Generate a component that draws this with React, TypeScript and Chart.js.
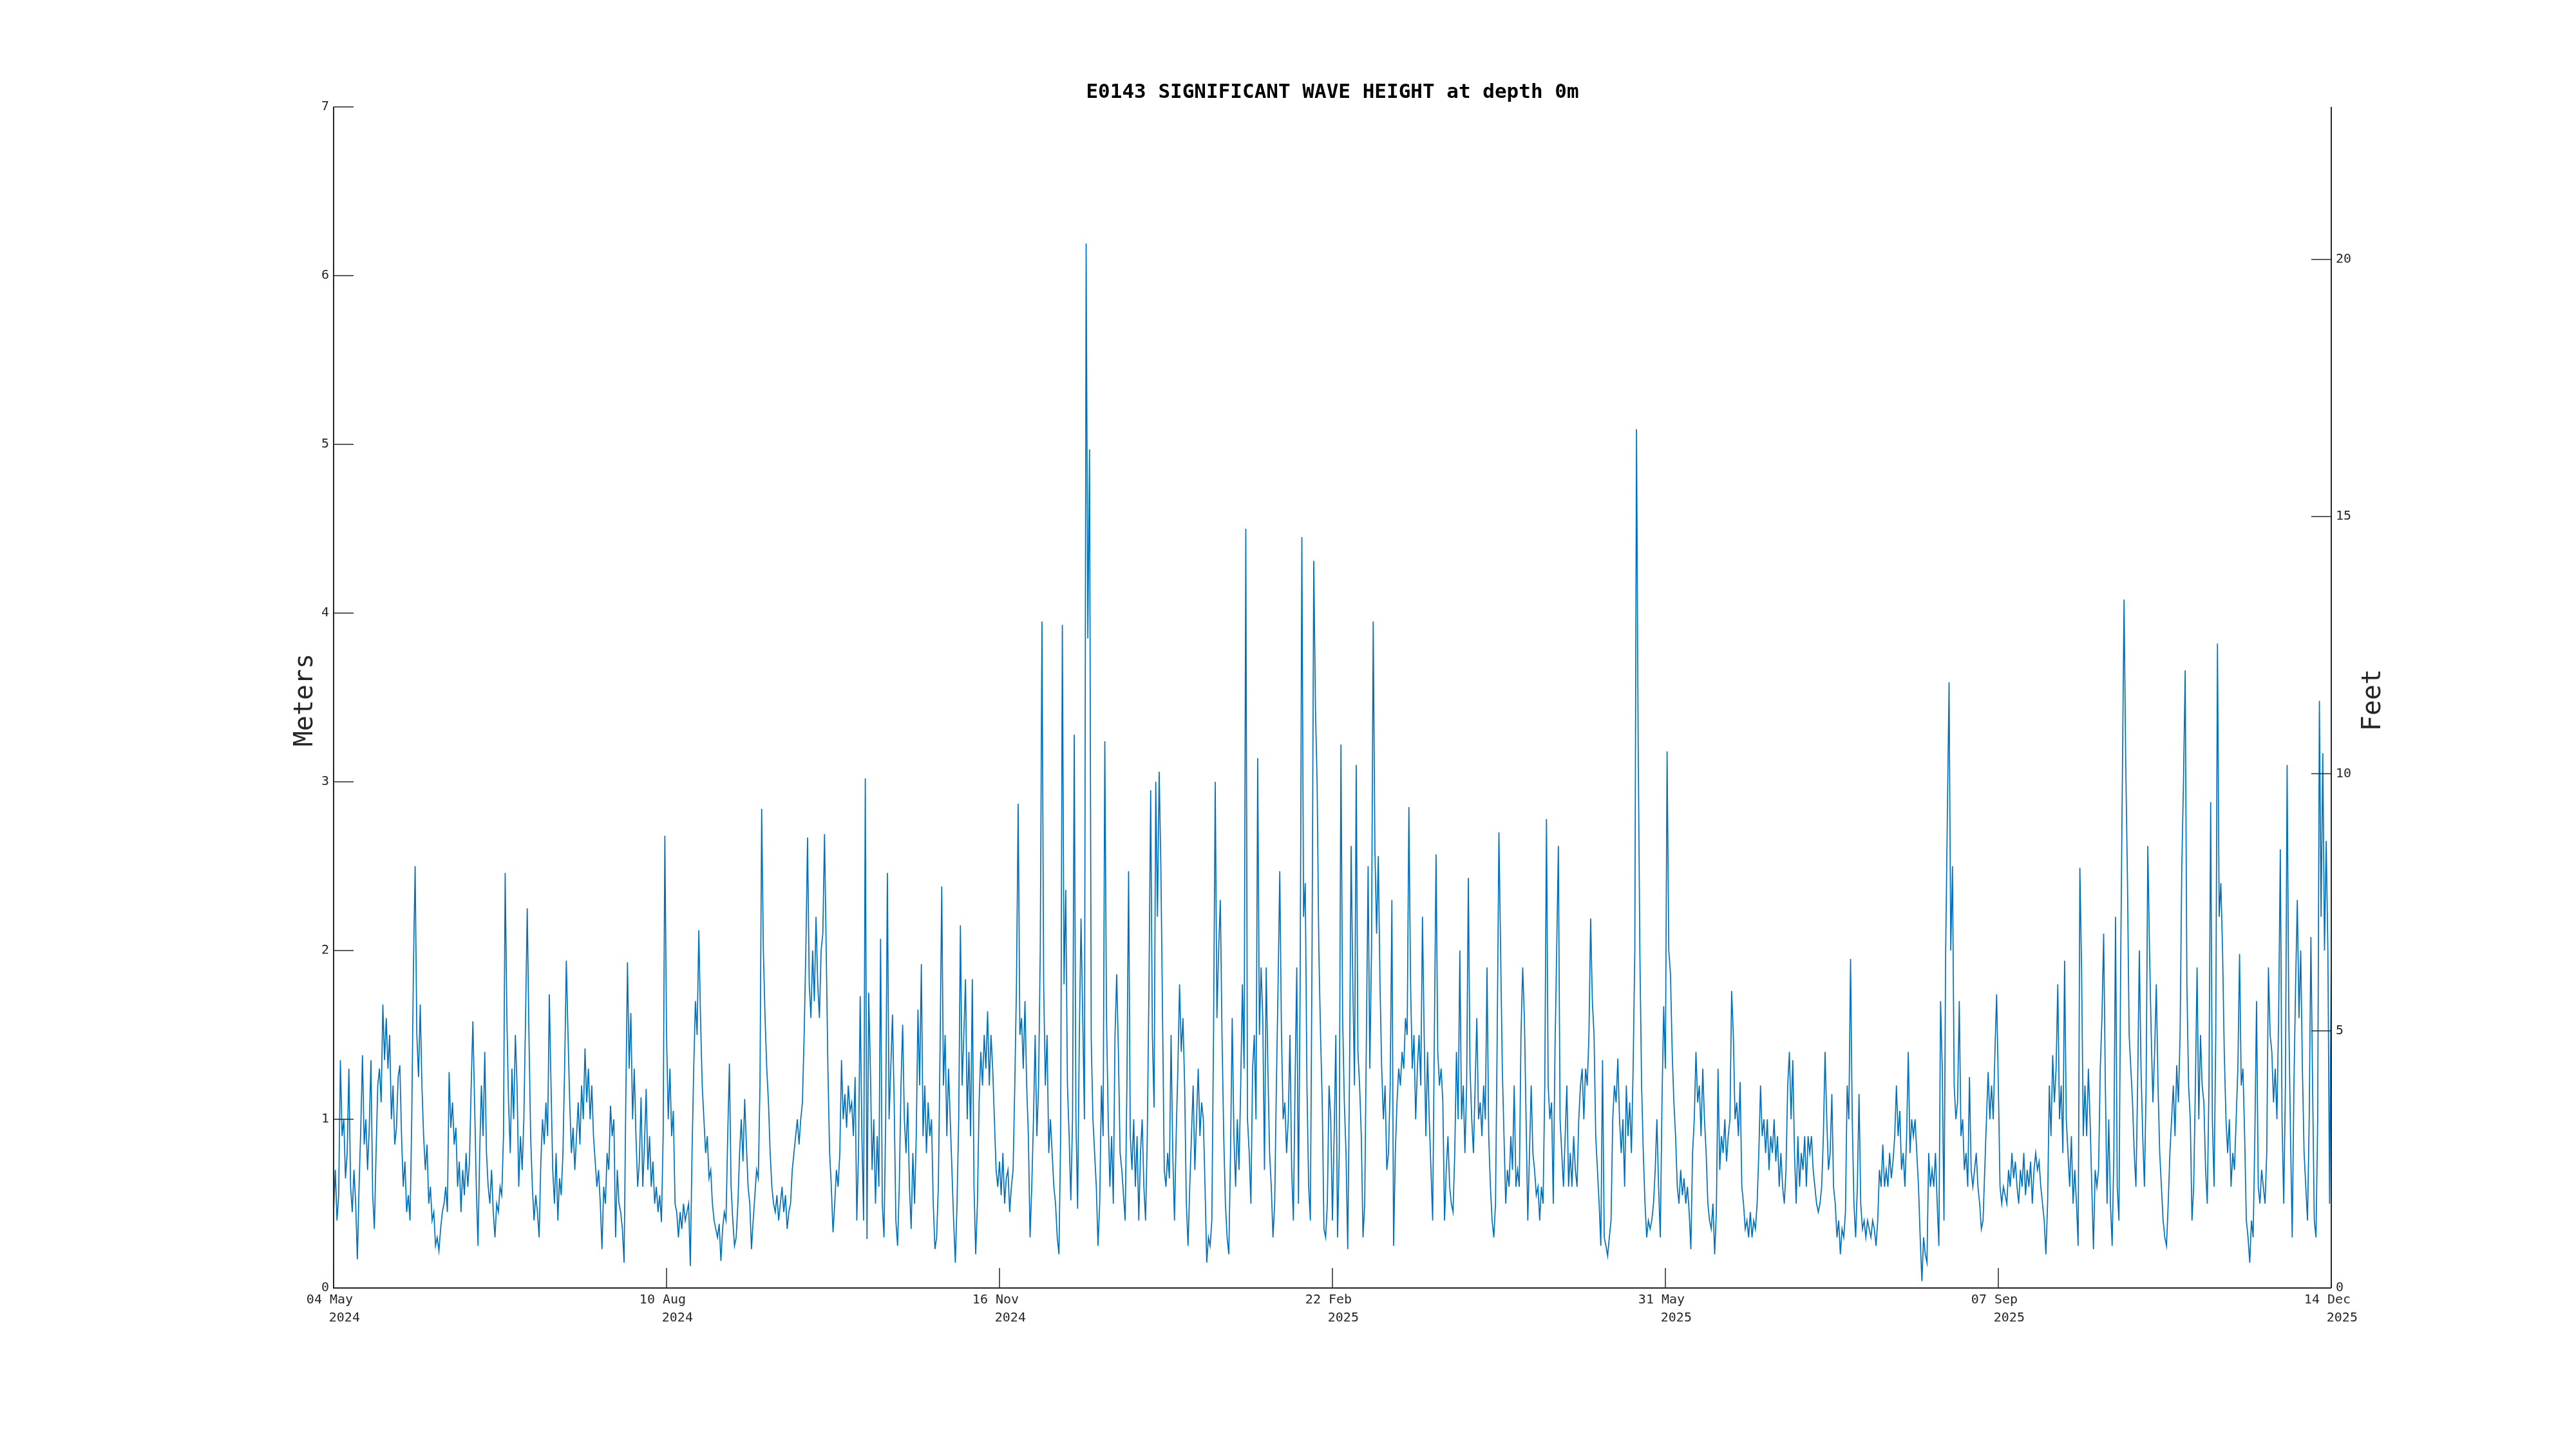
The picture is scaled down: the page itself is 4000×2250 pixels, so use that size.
import React, { useEffect, useRef } from "react";
import { Chart, registerables } from "chart.js";

Chart.register(...registerables);

// ---------- text ----------
const TITLE = "E0143 SIGNIFICANT WAVE HEIGHT at depth 0m";
const Y_LABEL = "Meters";
const Y2_LABEL = "Feet";

// ---------- ticks ----------
const X_TICK_DAYS = [0, 98, 196, 294, 392, 490, 588]; // days since 04 May 2024
const X_TICK_DATES = ["04 May", "10 Aug", "16 Nov", "22 Feb", "31 May", "07 Sep", "14 Dec"];
const X_TICK_YEARS = ["2024", "2024", "2024", "2025", "2025", "2025", "2025"];
const Y_TICKS = [0, 1, 2, 3, 4, 5, 6, 7];
const FEET_TICKS = [0, 5, 10, 15, 20];
const M_TO_FT = 3.28084;
const X_MAX_DAYS = 588;
const Y_MAX_M = 7;

// ---------- series (significant wave height, m), sampled every half day ----------
const SAMPLE_STEP_DAYS = 0.5;
const SEG_START_DAYS = [0, 49, 98, 147, 196, 245, 294, 343, 392, 441, 490, 539];

const hsMay2024 = [
  0.45, 0.7, 0.4, 0.55, 1.35, 0.9, 1.0, 0.65, 0.8, 1.3,
  0.6, 0.45, 0.7, 0.5, 0.17, 0.6, 0.95, 1.38, 0.85, 1.0,
  0.7, 0.95, 1.35, 0.55, 0.35, 0.8, 1.2, 1.3, 1.1, 1.68,
  1.35, 1.6, 1.3, 1.5, 1.0, 1.2, 0.85, 0.95, 1.25, 1.32,
  0.9, 0.6, 0.75, 0.45, 0.55, 0.4, 1.0, 1.9, 2.5, 1.5,
  1.25, 1.68, 1.2, 0.9, 0.7, 0.85, 0.5, 0.6, 0.4, 0.45,
  0.25, 0.3, 0.22, 0.35, 0.45, 0.5, 0.6, 0.45, 1.28, 0.95,
  1.1, 0.85, 0.95, 0.6, 0.75, 0.45, 0.7, 0.55, 0.8, 0.6,
  0.75, 1.2, 1.58, 1.1, 0.6, 0.25, 0.8, 1.2, 0.9, 1.4,
  0.8, 0.6, 0.5, 0.7, 0.45, 0.3, 0.5, 0.45,
];
const hsJun2024 = [
  0.6, 0.55, 0.9, 2.46, 1.6, 1.1, 0.8, 1.3, 1.0, 1.5,
  1.2, 0.6, 0.9, 0.7, 1.0, 1.6, 2.25, 1.5, 0.9, 0.6,
  0.4, 0.55, 0.45, 0.3, 0.75, 1.0, 0.85, 1.1, 0.9, 1.74,
  1.2, 0.7, 0.5, 0.8, 0.4, 0.65, 0.55, 0.8, 1.3, 1.94,
  1.5, 1.1, 0.8, 0.95, 0.7, 0.9, 1.1, 0.85, 1.2, 1.0,
  1.42, 1.1, 1.3, 1.0, 1.2, 0.9, 0.75, 0.6, 0.7, 0.5,
  0.23, 0.6, 0.5, 0.8, 0.7, 1.08, 0.9, 1.0, 0.3, 0.7,
  0.5, 0.45, 0.35, 0.15, 1.1, 1.93, 1.3, 1.63, 1.0, 1.3,
  0.9, 0.6, 0.75, 1.13, 0.6, 0.85, 1.18, 0.7, 0.9, 0.6,
  0.75, 0.5, 0.6, 0.45, 0.55, 0.39, 0.9, 2.68,
];
const hsAug2024 = [
  1.5, 1.0, 1.3, 0.9, 1.05, 0.5, 0.45, 0.3, 0.45, 0.35,
  0.5, 0.4, 0.45, 0.5, 0.13, 0.8, 1.3, 1.7, 1.5, 2.12,
  1.6, 1.2, 1.0, 0.8, 0.9, 0.65, 0.7, 0.5, 0.4, 0.35,
  0.3, 0.38, 0.16, 0.35, 0.45, 0.4, 0.9, 1.33, 0.6, 0.4,
  0.25, 0.3, 0.5, 0.8, 1.0, 0.75, 1.12, 0.85, 0.6, 0.5,
  0.23, 0.4, 0.55, 0.7, 0.65, 1.2, 2.84, 2.0, 1.6, 1.3,
  1.1, 0.8, 0.6, 0.5, 0.45, 0.55, 0.4, 0.5, 0.6, 0.45,
  0.55, 0.35, 0.45, 0.5, 0.7, 0.8, 0.9, 1.0, 0.85, 1.0,
  1.1, 1.5, 2.0, 2.67, 1.8, 1.6, 2.0, 1.7, 2.2, 1.8,
  1.6, 2.0, 2.1, 2.69, 2.0, 1.3, 0.8, 0.6,
];
const hsSep2024 = [
  0.33, 0.5, 0.7, 0.6, 0.8, 1.35, 1.0, 1.15, 0.95, 1.2,
  1.05, 1.1, 0.9, 1.25, 0.4, 0.8, 1.73, 0.9, 0.4, 3.02,
  0.29, 1.75, 1.3, 0.7, 1.0, 0.5, 0.9, 0.6, 2.07, 0.5,
  0.3, 1.0, 2.46, 1.0, 1.3, 1.62, 1.1, 0.4, 0.25, 0.6,
  1.2, 1.56, 1.0, 0.8, 1.1, 0.6, 0.35, 0.8, 0.5, 0.9,
  1.65, 1.2, 1.92, 0.9, 1.2, 0.8, 1.1, 0.9, 1.0, 0.5,
  0.23, 0.3, 0.6, 1.4, 2.38, 1.2, 1.5, 0.9, 1.3, 1.0,
  0.7, 0.4, 0.15, 0.5, 1.0, 2.15, 1.2, 1.5, 1.83, 1.0,
  1.4, 0.9, 1.83, 0.6, 0.2, 0.5, 1.1, 1.4, 1.2, 1.5,
  1.3, 1.64, 1.2, 1.5, 1.3, 1.0, 0.7, 0.6,
];
const hsNov2024 = [
  0.75, 0.55, 0.8, 0.5, 0.65, 0.7, 0.45, 0.6, 0.7, 1.2,
  1.8, 2.87, 1.5, 1.6, 1.3, 1.7, 1.2, 0.9, 0.3, 0.6,
  1.0, 1.5, 0.9, 1.2, 2.0, 3.95, 1.8, 1.2, 1.5, 0.8,
  1.0, 0.8, 0.6, 0.5, 0.3, 0.2, 0.9, 3.93, 1.8, 2.36,
  1.2, 0.9, 0.52, 1.0, 3.28, 1.0, 0.47, 1.5, 2.19, 1.6,
  1.0, 6.19, 3.85, 4.97, 1.48, 1.0, 0.8, 0.6, 0.25, 0.5,
  1.2, 0.9, 3.24, 1.6, 1.0, 0.6, 0.9, 0.5, 1.5, 1.86,
  1.4, 0.8, 0.7, 0.55, 0.4, 1.2, 2.47, 0.9, 0.7, 1.0,
  0.6, 0.9, 0.4, 0.8, 1.0, 0.6, 0.4, 0.9, 1.8, 2.95,
  1.5, 1.07, 3.0, 2.2, 3.06, 2.5, 1.6, 0.7,
];
const hsJan2025 = [
  0.6, 0.8, 0.65, 1.5, 0.8, 0.4, 0.9, 1.3, 1.8, 1.4,
  1.6, 1.2, 0.5, 0.25, 0.6, 0.9, 1.2, 0.7, 1.0, 1.3,
  0.9, 1.1, 1.0, 0.6, 0.15, 0.3, 0.25, 0.4, 1.5, 3.0,
  1.6, 2.0, 2.3, 1.5, 0.9, 0.5, 0.3, 0.2, 0.8, 1.6,
  0.9, 0.6, 1.0, 0.7, 1.2, 1.8, 1.3, 4.5, 1.0, 0.8,
  0.5, 1.3, 1.5, 1.0, 3.14, 1.5, 1.9, 1.6, 0.7, 1.9,
  1.3, 0.8, 0.6, 0.3, 0.5, 1.2, 1.8, 2.47, 1.5, 1.0,
  1.1, 0.8, 1.0, 1.5, 0.7, 0.4, 1.2, 1.9, 0.5, 1.8,
  4.45, 2.2, 2.4, 1.2, 0.6, 0.4, 2.0, 4.31, 3.44, 2.98,
  2.0, 1.5, 1.1, 0.35, 0.3, 0.5, 1.2, 1.0,
];
const hsFeb2025 = [
  0.4, 0.9, 1.5, 0.3, 0.8, 3.22, 1.6, 1.1, 0.8, 0.23,
  1.2, 2.62, 1.8, 1.2, 3.1, 1.4, 1.2, 0.9, 0.3, 0.5,
  1.5, 2.5, 1.3, 2.0, 3.95, 2.6, 2.1, 2.56, 1.8, 1.3,
  1.0, 1.2, 0.7, 0.8, 1.2, 2.3, 0.25, 0.8, 1.1, 1.3,
  1.2, 1.4, 1.3, 1.6, 1.5, 2.85, 1.8, 1.3, 1.5, 1.0,
  1.3, 1.5, 1.2, 2.2, 1.5, 0.9, 1.4, 1.0, 0.7, 0.4,
  1.5, 2.57, 1.4, 1.2, 1.3, 1.1, 0.4, 0.7, 0.9, 0.6,
  0.5, 0.45, 0.8, 1.4, 1.0, 2.0, 1.0, 1.2, 0.8, 1.2,
  2.43, 1.3, 1.0, 0.8, 1.2, 1.6, 1.0, 1.1, 0.9, 1.2,
  1.0, 1.9, 0.9, 0.6, 0.4, 0.3, 0.5, 1.5,
];
const hsApr2025 = [
  2.7, 2.0, 1.3, 0.9, 0.5, 0.7, 0.6, 0.9, 0.7, 1.2,
  0.6, 0.7, 0.6, 1.5, 1.9, 1.6, 1.0, 0.4, 0.8, 1.2,
  0.8, 0.7, 0.55, 0.6, 0.4, 0.6, 0.5, 1.2, 2.78, 1.2,
  1.0, 1.1, 0.5, 1.4, 2.0, 2.62, 1.0, 0.8, 0.6, 0.9,
  1.2, 0.6, 0.8, 0.6, 0.9, 0.7, 0.6, 1.0, 1.2, 1.3,
  1.0, 1.3, 1.2, 1.5, 2.19, 1.7, 1.5, 0.9, 0.7, 0.5,
  0.25, 1.35, 0.3, 0.25, 0.19, 0.3, 0.4, 1.0, 1.2, 1.1,
  1.36, 1.0, 0.8, 1.0, 0.6, 1.2, 0.9, 1.1, 0.8, 1.3,
  2.0, 5.09, 3.2, 1.97, 1.2, 0.8, 0.5, 0.3, 0.4, 0.35,
  0.4, 0.5, 0.7, 1.0, 0.6, 0.3, 1.1, 1.67,
];
const hsJun2025 = [
  1.3, 3.18, 2.0, 1.86, 1.4, 1.1, 0.9, 0.6, 0.5, 0.7,
  0.55, 0.65, 0.5, 0.6, 0.45, 0.23, 0.8, 1.0, 1.4, 1.1,
  1.2, 0.9, 1.3, 1.0, 0.8, 0.5, 0.4, 0.35, 0.5, 0.2,
  0.45, 1.3, 0.7, 0.9, 0.8, 1.0, 0.75, 0.9, 1.0, 1.76,
  1.5, 1.0, 1.1, 0.9, 1.22, 0.6, 0.5, 0.35, 0.4, 0.3,
  0.45, 0.3, 0.4, 0.35, 0.5, 0.8, 1.2, 0.9, 1.0, 0.8,
  1.0, 0.7, 0.9, 0.8, 1.0, 0.75, 0.9, 0.6, 0.8, 0.6,
  0.5, 0.7, 1.2, 1.4, 1.0, 1.35, 0.8, 0.5, 0.9, 0.6,
  0.8, 0.7, 0.9, 0.6, 0.9, 0.8, 0.9, 0.7, 0.6, 0.5,
  0.45, 0.5, 0.6, 0.9, 1.4, 1.0, 0.7, 0.8,
];
const hsJul2025 = [
  1.15, 0.6, 0.5, 0.3, 0.4, 0.2, 0.35, 0.3, 0.45, 1.2,
  1.0, 1.95, 1.0, 0.5, 0.3, 0.6, 1.15, 0.5, 0.35, 0.4,
  0.3, 0.4, 0.35, 0.3, 0.4, 0.35, 0.25, 0.4, 0.7, 0.6,
  0.85, 0.6, 0.7, 0.6, 0.8, 0.65, 0.75, 0.9, 1.2, 0.9,
  1.05, 0.7, 0.8, 0.6, 0.9, 1.4, 0.8, 1.0, 0.9, 1.0,
  0.8, 0.6, 0.3, 0.04, 0.3, 0.2, 0.15, 0.8, 0.6, 0.7,
  0.6, 0.8, 0.5, 0.25, 1.7, 1.3, 0.4, 2.0, 2.81, 3.59,
  2.0, 2.5, 1.2, 1.0, 1.1, 1.7, 0.9, 1.0, 0.7, 0.8,
  0.6, 1.25, 0.7, 0.6, 0.7, 0.8, 0.6, 0.5, 0.35, 0.4,
  0.7, 1.0, 1.28, 1.0, 1.2, 1.0, 1.4, 1.74,
];
const hsSep2025 = [
  1.2, 0.6, 0.5, 0.6, 0.55, 0.5, 0.7, 0.6, 0.8, 0.65,
  0.75, 0.6, 0.5, 0.7, 0.6, 0.8, 0.55, 0.7, 0.6, 0.75,
  0.5, 0.7, 0.8, 0.7, 0.75, 0.6, 0.5, 0.4, 0.2, 0.5,
  1.2, 0.9, 1.38, 1.1, 1.3, 1.8, 1.0, 1.2, 0.8, 1.94,
  1.0, 0.8, 0.6, 0.9, 0.5, 0.7, 0.5, 0.25, 2.49, 1.9,
  0.9, 1.2, 0.9, 1.3, 1.0, 0.6, 0.23, 0.7, 0.6, 0.7,
  1.3, 1.6, 2.1, 1.2, 0.5, 1.0, 0.5, 0.25, 0.8, 2.2,
  0.6, 0.4, 1.9, 3.0, 4.08, 3.11, 2.43, 1.5, 1.3, 1.1,
  0.8, 0.6, 1.2, 2.0, 1.3, 0.9, 0.6, 1.2, 2.62, 2.0,
  1.5, 1.1, 1.4, 1.8, 1.2, 0.8, 0.6, 0.4,
];
const hsNov2025 = [
  0.3, 0.25, 0.5, 0.8, 1.0, 1.2, 0.9, 1.32, 1.1, 1.5,
  2.5, 3.0, 3.66, 1.8, 1.2, 1.0, 0.4, 0.6, 1.2, 1.9,
  1.0, 1.5, 1.2, 1.1, 0.7, 0.5, 1.2, 2.88, 1.0, 0.6,
  1.5, 3.82, 2.2, 2.4, 2.0, 1.4, 1.0, 0.8, 1.0, 0.6,
  0.8, 0.7, 1.0, 1.3, 1.98, 1.2, 1.3, 0.9, 0.4, 0.3,
  0.15, 0.4, 0.3, 0.9, 1.7, 0.6, 0.5, 0.7, 0.6, 0.5,
  0.8, 1.9, 1.5, 1.4, 1.1, 1.3, 1.0, 1.6, 2.6, 1.0,
  0.5, 1.2, 3.1, 1.6, 0.9, 0.3, 1.2, 1.8, 2.3, 1.6,
  2.0, 1.3, 0.8, 0.6, 0.4, 1.0, 2.08, 1.2, 0.4, 0.3,
  1.0, 3.48, 2.2, 3.17, 2.0, 2.65, 2.0, 0.5, 2.0,
];

const HS_SEGMENTS = [
  hsMay2024, hsJun2024, hsAug2024, hsSep2024, hsNov2024, hsJan2025,
  hsFeb2025, hsApr2025, hsJun2025, hsJul2025, hsSep2025, hsNov2025,
];

// ---------- styles ----------
const LINE_COLOR = "#0072BD";
const AXIS_COLOR = "#262626";
const MONO = "'DejaVu Sans Mono', 'Liberation Mono', monospace";
const TICK_FONT_PX = 20;
const TICK_LEN = 31;

const axesPlugin = {
  id: "matlabAxes",
  afterDraw(chart: any) {
    const { ctx, chartArea } = chart;
    const { left, right, top, bottom } = chartArea;
    const xs = chart.scales.x;
    const ys = chart.scales.y;
    const y2 = chart.scales.y2;
    ctx.save();
    ctx.strokeStyle = AXIS_COLOR;
    ctx.fillStyle = AXIS_COLOR;
    ctx.lineWidth = 2;

    // axis lines (no top box line)
    ctx.beginPath();
    ctx.moveTo(left, top);
    ctx.lineTo(left, bottom);
    ctx.lineTo(right, bottom);
    ctx.moveTo(right, top);
    ctx.lineTo(right, bottom);
    ctx.stroke();

    ctx.lineWidth = 1.5;
    ctx.font = `${TICK_FONT_PX}px ${MONO}`;
    const cw = ctx.measureText("0").width;

    // left (meters) ticks
    ctx.textAlign = "right";
    ctx.textBaseline = "middle";
    Y_TICKS.forEach((v) => {
      const py = ys.getPixelForValue(v);
      ctx.beginPath();
      ctx.moveTo(left, py);
      ctx.lineTo(left + TICK_LEN, py);
      ctx.stroke();
      ctx.fillText(String(v), left - 7, py);
    });

    // right (feet) ticks
    ctx.textAlign = "left";
    FEET_TICKS.forEach((v) => {
      const py = y2.getPixelForValue(v);
      ctx.beginPath();
      ctx.moveTo(right - TICK_LEN, py);
      ctx.lineTo(right, py);
      ctx.stroke();
      ctx.fillText(String(v), right + 7, py);
    });

    // x ticks (two-line date labels)
    X_TICK_DAYS.forEach((d, i) => {
      const px = xs.getPixelForValue(d);
      ctx.beginPath();
      ctx.moveTo(px, bottom);
      ctx.lineTo(px, bottom - TICK_LEN);
      ctx.stroke();
      ctx.textAlign = "left";
      ctx.fillText(X_TICK_DATES[i], px - 3.5 * cw, bottom + 19);
      ctx.fillText(X_TICK_YEARS[i], px - 0.6 * cw, bottom + 47);
    });

    // title
    ctx.fillStyle = "#000";
    ctx.font = `bold 31px ${MONO}`;
    ctx.textAlign = "center";
    ctx.fillText(TITLE, (left + right) / 2, 144);

    // axis titles
    ctx.fillStyle = AXIS_COLOR;
    ctx.font = `40px ${MONO}`;
    const cy = (top + bottom) / 2;
    ctx.save();
    ctx.translate(left - 43, cy + 4);
    ctx.rotate(-Math.PI / 2);
    ctx.fillText(Y_LABEL, 0, 0);
    ctx.restore();
    ctx.save();
    ctx.translate(right + 66, cy + 4);
    ctx.rotate(-Math.PI / 2);
    ctx.fillText(Y2_LABEL, 0, 0);
    ctx.restore();

    ctx.restore();
  },
};

export default function App() {
  const canvasRef = useRef<HTMLCanvasElement | null>(null);

  useEffect(() => {
    const canvas = canvasRef.current;
    if (!canvas) return;
    const points = HS_SEGMENTS.flatMap((seg, s) =>
      seg.map((v, i) => ({ x: SEG_START_DAYS[s] + i * SAMPLE_STEP_DAYS, y: v }))
    );
    const chart = new Chart(canvas, {
      type: "line",
      data: {
        datasets: [
          {
            label: "Hs",
            data: points,
            borderColor: LINE_COLOR,
            backgroundColor: LINE_COLOR,
            borderWidth: 1.7,
            pointRadius: 0,
            tension: 0,
            fill: false,
            xAxisID: "x",
            yAxisID: "y",
          },
        ],
      },
      options: {
        animation: false,
        responsive: false,
        devicePixelRatio: 1,
        layout: { padding: { left: 518, right: 380, top: 166, bottom: 250 } },
        plugins: {
          legend: { display: false },
          title: { display: false },
          tooltip: { enabled: false },
        },
        scales: {
          x: { type: "linear", min: 0, max: X_MAX_DAYS, display: false },
          y: { type: "linear", min: 0, max: Y_MAX_M, display: false },
          y2: {
            type: "linear",
            position: "right",
            min: 0,
            max: Y_MAX_M * M_TO_FT,
            display: false,
          },
        },
      },
      plugins: [axesPlugin],
    });
    return () => chart.destroy();
  }, []);

  return (
    <div
      style={{
        position: "absolute",
        left: 0,
        top: 0,
        width: 4000,
        height: 2250,
        background: "#fff",
      }}
    >
      <canvas
        ref={canvasRef}
        width={4000}
        height={2250}
        style={{ width: 4000, height: 2250, display: "block" }}
      />
    </div>
  );
}
